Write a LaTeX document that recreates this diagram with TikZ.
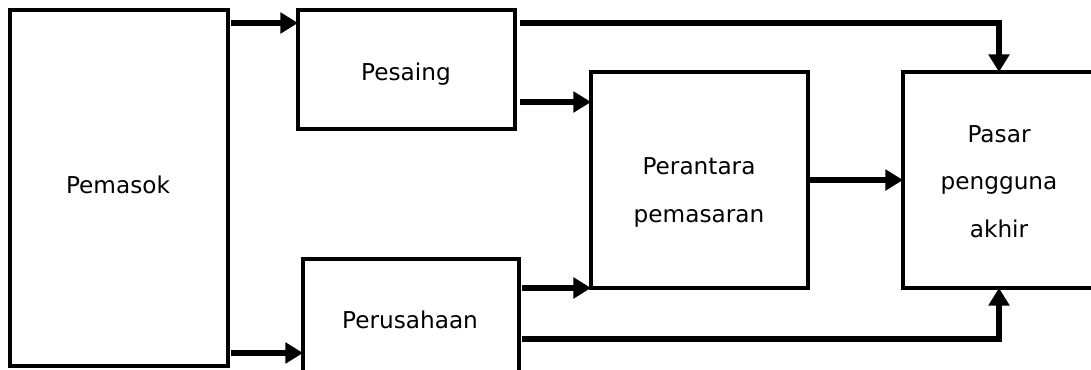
\documentclass[tikz,border=0pt]{standalone}
\usepackage{fontspec}
\setmainfont{DejaVu Sans}
\usetikzlibrary{arrows.meta}

\begin{document}
\begin{tikzpicture}[x=0.02cm, y=-0.02cm,
    box/.style={draw, line width=2pt, rectangle, inner sep=0pt, outer sep=0pt},
    txt/.style={inner sep=0pt, align=center, font=\fontsize{13.2}{27.2}\selectfont},
    flow/.style={line width=3.6pt, -{Triangle[length=10pt, width=11.5pt]}}]
    \clip (0,0) rectangle (1091,369);
    \fill[white] (0,0) rectangle (1091,369);

    % Boxes
    \node[box, minimum width=4.36cm, minimum height=7.12cm] (pemasok) at (119,188) {};
    \node[box, minimum width=4.34cm, minimum height=2.38cm] (pesaing) at (406.5,69.5) {};
    \node[box, minimum width=4.32cm, minimum height=2.38cm] (perusahaan) at (411,318.5) {};
    \node[box, minimum width=4.34cm, minimum height=4.32cm] (perantara) at (699.5,180) {};
    \node[box, minimum width=3.84cm, minimum height=4.32cm] (pasar) at (999,180) {};

    % Labels
    \node[txt, anchor=base] (pemasokText) at (118,193) {Pemasok};
    \node[txt, anchor=base] (pesaingText) at (406,80) {Pesaing};
    \node[txt, anchor=base] (perusahaanText) at (410,328) {Perusahaan};
    \node[txt] (perantaraText) at (699,192.4) {Perantara\\pemasaran};
    \node[txt] (pasarText) at (999,181.7) {Pasar\\pengguna\\akhir};

    % Flows
    \draw[flow, shorten <=1.7pt] (pemasok.east |- 0,23) -- (pesaing.west |- 0,23);
    \draw[flow, shorten <=1.7pt] (pemasok.east |- 0,353) -- (perusahaan.west |- 0,353);
    \draw[flow, shorten <=2.8pt] (pesaing.east |- 0,23) -| (pasar.north);
    \draw[flow, shorten <=2.8pt] (pesaing.east |- 0,102) -- (perantara.west |- 0,102);
    \draw[flow, shorten <=1.7pt] (perusahaan.east |- perantara.south west) -- (perantara.south west);
    \draw[flow, shorten <=1.7pt] (perusahaan.east |- 0,339) -| (pasar.south);
    \draw[flow] (perantara.east) -- (pasar.west);
\end{tikzpicture}
\end{document}
